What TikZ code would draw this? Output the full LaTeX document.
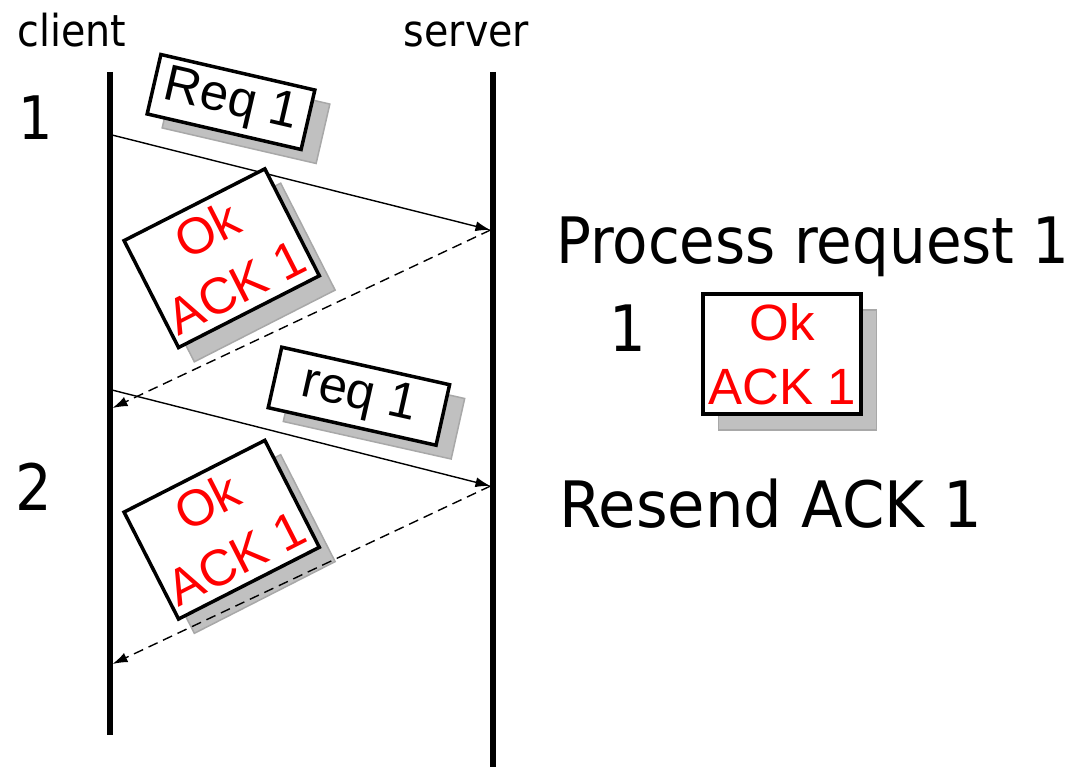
\documentclass[tikz,border=0pt]{standalone}
\usepackage{fontspec}
\setmainfont{Liberation Sans}
\newfontfamily\lblfont[FakeStretch=0.9]{DejaVu Sans}
\newfontfamily\procfont[FakeStretch=0.905]{DejaVu Sans}
\newfontfamily\resendfont[FakeStretch=0.95]{DejaVu Sans}
\usetikzlibrary{arrows.meta,calc}
\definecolor{shadowfill}{HTML}{C0C0C0}
\definecolor{shadowedge}{HTML}{A8A8A8}
\definecolor{ackred}{HTML}{FF0000}

\begin{document}
\begin{tikzpicture}[x=1pt,y=-1pt,
  lifeline/.style={line width=5.5pt},
  msg/.style={line width=1.4pt,-{Latex[length=15pt,width=10pt]}},
  reply/.style={msg,dash pattern=on 10pt off 6pt},
  pkt/.style={draw,line width=3.5pt,fill=white,inner sep=0pt,align=center,
    font=\fontsize{51}{64}\selectfont},
  pktshadow/.style={draw=shadowedge,fill=shadowfill,line width=1.5pt,inner sep=0pt},
  reqsize/.style={minimum width=158pt,minimum height=61pt},
  ressize/.style={minimum width=172pt,minimum height=62pt},
  acksize/.style={minimum width=158pt,minimum height=120pt},
  biglabel/.style={inner sep=0pt,anchor=base,font=\lblfont\fontsize{64}{76}\selectfont},
  head/.style={inner sep=0pt,anchor=base,font=\lblfont\fontsize{44}{52}\selectfont},
]
\useasboundingbox (0,0) rectangle (1078,767);

% lifeline end points and message anchors
\coordinate (ctop) at (110,72);
\coordinate (cbot) at (110,735);
\coordinate (stop) at (493,72);
\coordinate (sbot) at (493,767);
\coordinate (c1) at (112,135);
\coordinate (s1) at (490.5,230);
\coordinate (c2) at (112.5,408);
\coordinate (c3) at (112,390);
\coordinate (s2) at (490.5,486);
\coordinate (c4) at (112.5,664);

% packet shadows
\node[pktshadow,reqsize,rotate=-13] (req-sh) at (246,116) {};
\node[pktshadow,acksize,rotate=27] (ackA-sh) at (237.5,272.5) {};
\node[pktshadow,ressize,rotate=-12.6] (res-sh) at (374,410) {};
\node[pktshadow,acksize,rotate=27] (ackB-sh) at (237.5,544) {};
\node[pktshadow,acksize] (ackC-sh) at (797.5,370) {};

% lifelines
\draw[lifeline] (ctop) -- (cbot);
\draw[lifeline] (stop) -- (sbot);

% messages
\draw[msg] (c1) -- (s1);
\draw[reply] (s1) -- (c2);
\draw[msg] (c3) -- (s2);
\draw[reply] (s2) -- (c4);

% packets
\node[pkt,reqsize,rotate=-13] (req) at (231,102) {Req 1};
\node[pkt,acksize,rotate=27,text=ackred] (ackA) at (221.7,258.2) {Ok\\ACK 1};
\node[pkt,ressize,rotate=-12.6] (res) at (358.9,396.2) {req 1};
\node[pkt,acksize,rotate=27,text=ackred] (ackB) at (221.7,529.7) {Ok\\ACK 1};
\node[pkt,acksize,text=ackred] (ackC) at (782,354) {Ok\\ACK 1};

% labels
\node[head] (client) at (71.7,46.7) {client};
\node[head] (server) at (466.5,46.7) {server};
\node[biglabel,font=\lblfont\fontsize{60}{72}\selectfont] (n1) at (36,140) {1};
\node[biglabel] (n2) at (33.5,510) {2};
\node[biglabel] (n3) at (628,351.7) {1};
\node[biglabel,anchor=base west,font=\procfont\fontsize{64}{76}\selectfont] (proc) at (556,263) {Process request 1};
\node[biglabel,anchor=base west,font=\resendfont\fontsize{64}{76}\selectfont] (resend) at (559,527) {Resend ACK 1};
\end{tikzpicture}
\end{document}
